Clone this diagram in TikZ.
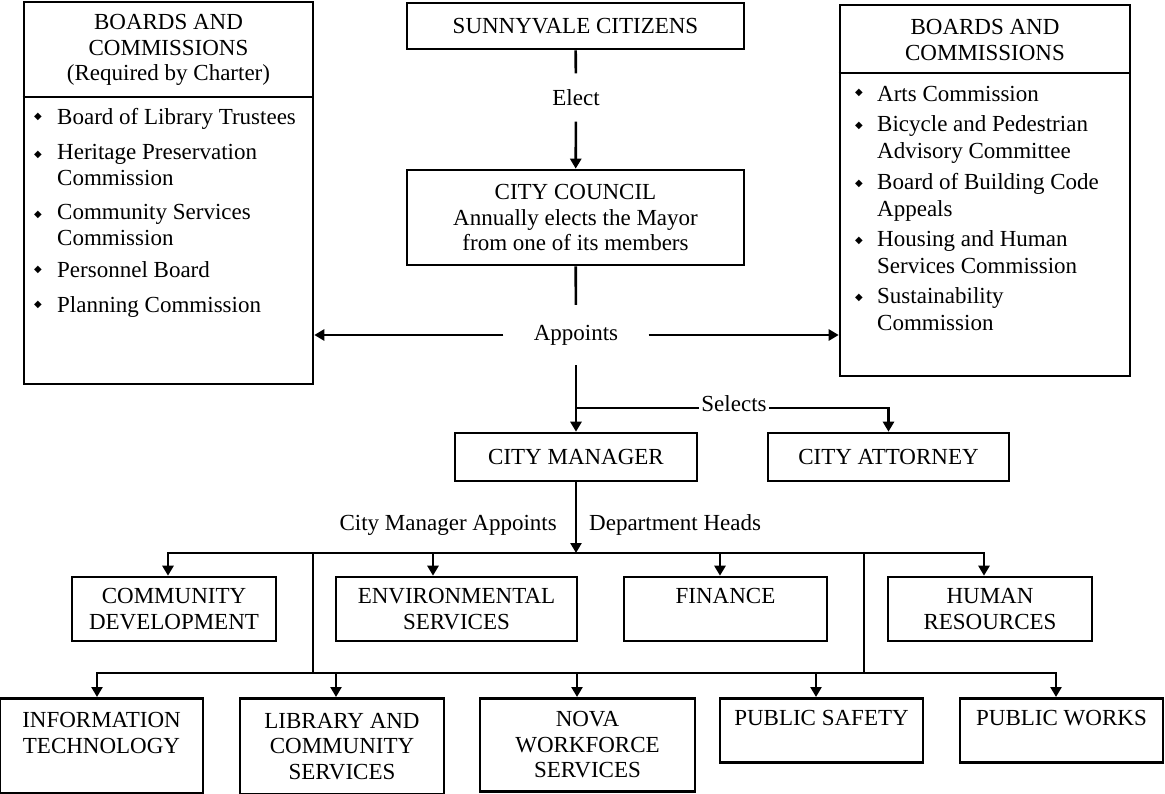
\documentclass[tikz,border=0pt]{standalone}
\usepackage{fontspec}
\setmainfont{Liberation Serif}
\newfontfamily\symfont{DejaVu Sans}
\usetikzlibrary{arrows.meta}

\newcommand{\chartfont}{\fontsize{23}{25.5}\selectfont}
\newcommand{\dmd}{{\symfont\fontsize{10}{10}\selectfont ◆}}

\begin{document}
\begin{tikzpicture}[x = 1pt, y = -1pt, font = \chartfont,
		unit/.style = {draw, line width = 2.6pt, align = center, inner sep = 0pt},
		tag/.style = {inner sep = 0pt, align = center},
		item/.style = {anchor = north west, inner sep = 0pt, align = left, execute at begin node = \strut},
		link/.style = {line width = 2.6pt},
		arr/.style = {link, -{Triangle[length = 10pt, width = 11pt]}}]
					\def\rowA{609};
					\def\rowB{697};

					\useasboundingbox (0,0) rectangle (1165,794);

					% boards and commissions
					\begin{scope}
						\node [unit, minimum width = 289pt, minimum height = 382pt] (bcl) at (168.5,193) {};
						\node [unit, minimum width = 290pt, minimum height = 371pt] (bcr) at (985,190.5) {};
						\coordinate (bclcut) at (0,97);
						\coordinate (bcrcut) at (0,73);
						\draw [link] (bcl.west |- bclcut) -- (bcl.east |- bclcut);
						\draw [link] (bcr.west |- bcrcut) -- (bcr.east |- bcrcut);
						\node [tag] (bclhead) at (168.5,50) {BOARDS AND\\COMMISSIONS\\(Required by Charter)};
						\node [tag] (bcrhead) at (985,40) {BOARDS AND\\COMMISSIONS};

						\foreach \y/\txt [count = \i] in {124/Board of Library Trustees, 162/{Heritage Preservation\\Commission}, 222/{Community Services\\Commission}, 277/Personnel Board, 312/Planning Commission}
						{
							\node [item] (bcl-\i) at (57,\y-17.85) {\txt};
							\node [tag] (bcl-dot-\i) at (38,\y-7.5) {\dmd};
						}
						\foreach \y/\txt [count = \i] in {100/Arts Commission, 133/{Bicycle and Pedestrian\\Advisory Committee}, 191/{Board of Building Code\\Appeals}, 248/{Housing and Human\\Services Commission}, 305/{Sustainability\\Commission}}
						{
							\node [item, font = \fontsize{23}{27}\selectfont] (bcr-\i) at (877,\y-17.85) {\txt};
							\node [tag] (bcr-dot-\i) at (859,\y-7.5) {\dmd};
						}
					\end{scope}

					% citizens, council, manager, attorney
					\begin{scope}
						\node [unit, minimum width = 337pt, minimum height = 46pt] (citizens) at (575.5,26) {SUNNYVALE CITIZENS};
						\node [unit, minimum width = 337pt, minimum height = 95pt] (council) at (575.5,217.5) {CITY COUNCIL\\Annually elects the Mayor\\from one of its members};
						\node [unit, minimum width = 242pt, minimum height = 48pt] (manager) at (576,457) {CITY MANAGER};
						\node [unit, minimum width = 241pt, minimum height = 48pt] (attorney) at (888.5,457) {CITY ATTORNEY};

						\node [tag, minimum height = 48pt] (elect) at (576,97.5) {Elect};
						\node [tag, minimum width = 145pt, minimum height = 60pt] (appoint) at (576,335) {Appoints};
						\node [tag, inner xsep = 2pt] (selects) at (734,404) {Selects};
						\node [tag, anchor = east] (cmtag) at (557,525) {City Manager Appoints};
						\node [tag, anchor = west] (dhtag) at (589,525) {Department Heads};
					\end{scope}

					% departments
					\begin{scope}
						\node [unit, minimum width = 204pt, minimum height = 64pt] (commdev) at (174,\rowA) {COMMUNITY\\DEVELOPMENT};
						\node [unit, minimum width = 241pt, minimum height = 64pt] (envserv) at (456.5,\rowA) {ENVIRONMENTAL\\SERVICES};
						\node [unit, minimum width = 203pt, minimum height = 64pt] (finance) at (725.5,\rowA) {FINANCE\\\phantom{X}};
						\node [unit, minimum width = 204pt, minimum height = 64pt] (humres) at (990,\rowA) {HUMAN\\RESOURCES};

						\node [unit, minimum width = 203pt, minimum height = 95pt, anchor = north] (infotech) at (101.5,\rowB) {INFORMATION\\TECHNOLOGY\\\phantom{X}};
						\node [unit, minimum width = 204pt, minimum height = 96pt, anchor = north] (library) at (342,\rowB) {LIBRARY AND\\COMMUNITY\\SERVICES};
						\node [unit, minimum width = 215pt, minimum height = 93pt, anchor = north] (nova) at (587.5,\rowB) {NOVA\\WORKFORCE\\SERVICES};
						\node [unit, minimum width = 203pt, minimum height = 64pt, anchor = north] (safety) at (821.5,\rowB) {PUBLIC SAFETY\\\phantom{X}};
						\node [unit, minimum width = 203pt, minimum height = 64pt, anchor = north] (works) at (1061.5,\rowB) {PUBLIC WORKS\\\phantom{X}};
					\end{scope}

					% connectors
					\begin{scope}
						\coordinate (fork) at (576,408);
						\coordinate (hub) at (576,553);
						\foreach \x [count = \i] in {168,433,720,984} \coordinate (up-\i) at (\x,553);
						\foreach \x [count = \i] in {97,336,577,816,1056} \coordinate (lo-\i) at (\x,673);
						\coordinate (tie-1) at (313,553);
						\coordinate (tie-2) at (864,553);

						\draw [link] (citizens) -- (elect);
						\draw [arr] (elect) -- (council);
						\draw [link] (council) -- (appoint);
						\draw [arr] (appoint) -- (manager);
						\draw [arr] (appoint.west) -- (appoint.west -| bcl.east);
						\draw [arr] (appoint.east) -- (appoint.east -| bcr.west);
						\draw [link] (fork) -- (fork -| selects.west);
						\draw [arr] (selects.east |- fork) -| (attorney.north);

						\draw [arr] (manager) -- (hub);
						\draw [arr] (hub) -| (up-1 |- commdev.north);
						\draw [arr] (hub) -| (up-4 |- humres.north);
						\draw [arr] (up-2) -- (up-2 |- envserv.north);
						\draw [arr] (up-3) -- (up-3 |- finance.north);

						\draw [arr] (tie-1) -- (tie-1 |- lo-1) -| (lo-1 |- infotech.north);
						\draw [arr] (tie-2) -- (tie-2 |- lo-5) -| (lo-5 |- works.north);
						\draw [link] (tie-1 |- lo-1) -- (tie-2 |- lo-5);
						\draw [arr] (lo-2) -- (lo-2 |- library.north);
						\draw [arr] (lo-3) -- (lo-3 |- nova.north);
						\draw [arr] (lo-4) -- (lo-4 |- safety.north);
					\end{scope}
				\end{tikzpicture}
\end{document}
